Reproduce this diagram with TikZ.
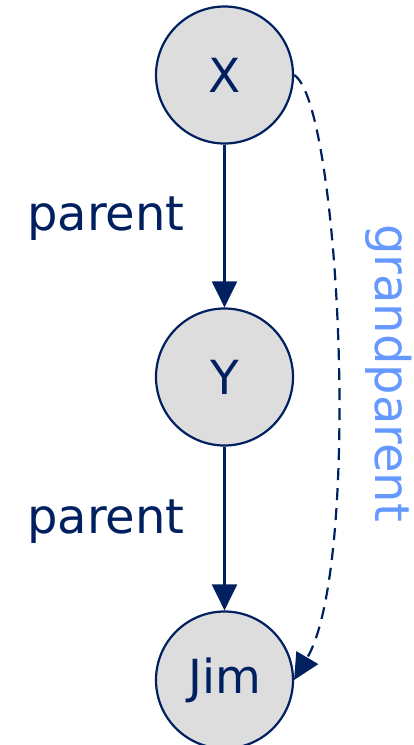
\documentclass[tikz,border=0pt]{standalone}
\usepackage{fontspec}
\setmainfont{DejaVu Sans}
\usetikzlibrary{arrows.meta}
\definecolor{navy}{HTML}{002060}
\definecolor{nodegrey}{HTML}{DDDDDD}
\definecolor{gpblue}{HTML}{6699FF}
\tikzset{
  x=1pt, y=1pt,
  circnode/.style={circle, draw=navy, fill=nodegrey, line width=2.2pt, minimum size=137pt, inner sep=0pt, text=navy, font=\fontsize{47}{56}\selectfont},
  lbl/.style={text=navy, inner sep=0pt, font=\fontsize{48}{56}\selectfont},
  edge/.style={draw=navy, line width=2.2pt, -{Triangle[length=26pt,width=25pt]}},
}
\begin{document}
\begin{tikzpicture}
\useasboundingbox (0,0) rectangle (414,-745);
\node[circnode] (X) at (224.5,-75) {X};
\node[circnode] (Y) at (224.5,-377) {Y};
\node[circnode] (Jim) at (224.5,-680) {Jim};
\draw[edge] (X.south) -- (Y.north);
\draw[edge] (Y.south) -- (Jim.north);
\node[lbl, anchor=base west] (p1) at (27,-230) {parent};
\node[lbl, anchor=base west] (p2) at (27,-533) {parent};
\draw[edge, dash pattern=on 12pt off 8pt] (X.east) .. controls (340,-103) and (362,-565) .. (Jim.east);
\node[lbl, text=gpblue, rotate=-90, anchor=base] (gp) at (375,-373) {grandparent};
\end{tikzpicture}
\end{document}
